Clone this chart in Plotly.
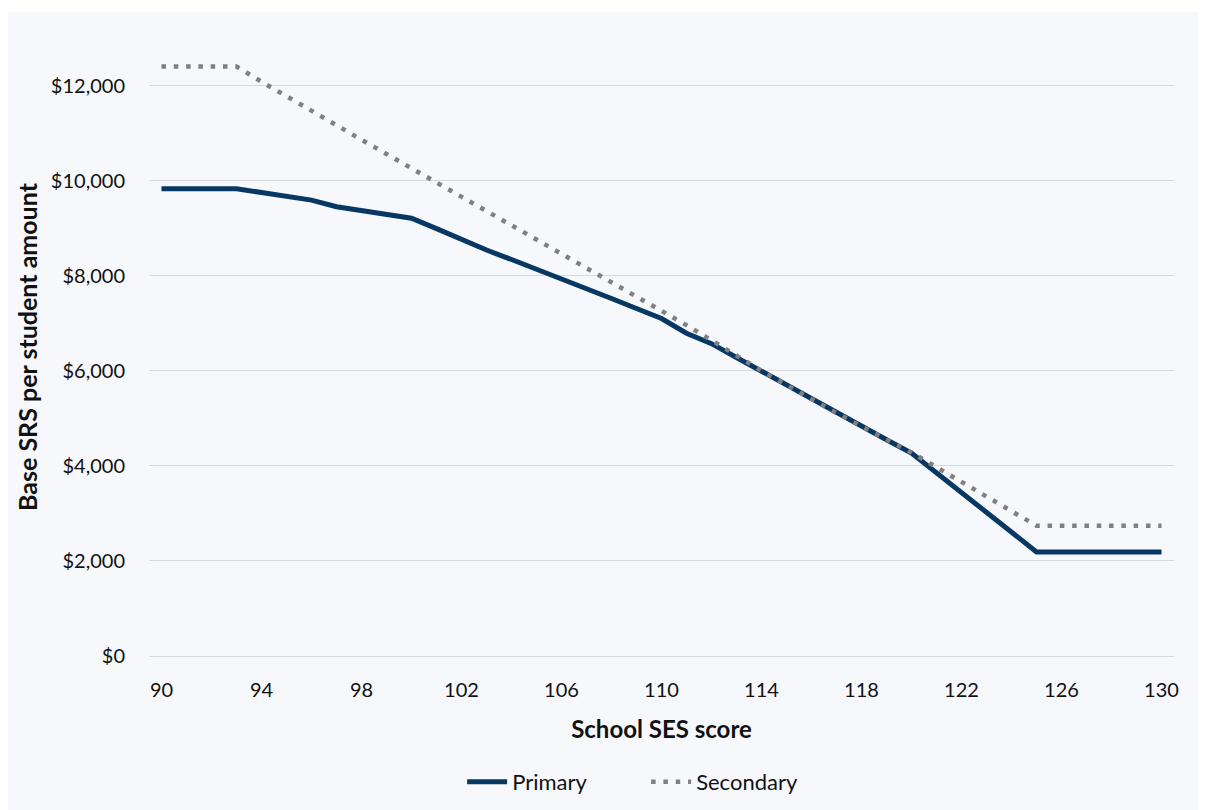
import plotly.graph_objects as go

ses_score = list(range(90, 131))

primary = [9830, 9830, 9830, 9830, 9750, 9670, 9590, 9450, 9370, 9290,
           9210, 8990, 8760, 8540, 8340, 8140, 7940, 7730, 7520, 7310,
           7100, 6790, 6570, 6280, 5990, 5690, 5400, 5100, 4820, 4550,
           4270, 3860, 3440, 3030, 2610, 2190, 2190, 2190, 2190, 2190, 2190]

secondary = [12400, 12400, 12400, 12400, 12080, 11770, 11460, 11160, 10860, 10560,
             10260, 9960, 9660, 9360, 9060, 8760, 8460, 8160, 7860, 7560,
             7270, 6960, 6640, 6310, 6000, 5700, 5400, 5110, 4830, 4550,
             4280, 3970, 3660, 3350, 3040, 2740, 2740, 2740, 2740, 2740, 2740]

x_ticks = list(range(90, 131, 4))
y_ticks = [0, 2000, 4000, 6000, 8000, 10000, 12000]
y_tick_text = ["$0", "$2,000", "$4,000", "$6,000", "$8,000", "$10,000", "$12,000"]

FONT = "Lato"
PANEL = "#f6f8fc"
GRID = "#d9d9d9"
TEXT = "#111111"

fig = go.Figure()
fig.add_trace(go.Scatter(
    x=ses_score, y=primary, name="Primary", mode="lines",
    line=dict(color="#073763", width=5),
))
fig.add_trace(go.Scatter(
    x=ses_score, y=secondary, name="Secondary", mode="lines",
    line=dict(color="#808080", width=4.5, dash="4.5px,7.8px"),
))

# thin white strip above the chart panel
fig.add_shape(type="rect", xref="paper", yref="paper",
              x0=-0.2, x1=1.2, y0=1.042, y1=1.2,
              fillcolor="white", line=dict(width=0), layer="below")

fig.update_layout(
    width=1206, height=810,
    margin=dict(l=141, r=40, t=30, b=162),
    paper_bgcolor=PANEL,
    plot_bgcolor=PANEL,
    font=dict(family=FONT, size=20, color=TEXT),
    showlegend=True,
    legend=dict(orientation="h", x=0.485, xanchor="center", y=-0.204, yanchor="middle",
                font=dict(family=FONT, size=22, color=TEXT),
                bgcolor="rgba(0,0,0,0)", itemwidth=40,
                entrywidth=129, entrywidthmode="pixels"),
    xaxis=dict(
        range=[89.5, 130.5], tickvals=x_ticks, showgrid=False, zeroline=False,
        showline=True, linecolor=GRID, linewidth=1.3, ticks="",
        ticklabelstandoff=16,
        tickfont=dict(family=FONT, size=20, color=TEXT),
        title=dict(text="<b>School SES score</b>", standoff=21,
                   font=dict(family=FONT, size=24, color=TEXT)),
    ),
    yaxis=dict(
        range=[0, 13000], tickvals=y_ticks, ticktext=y_tick_text,
        showgrid=True, gridcolor=GRID, gridwidth=1.3, zeroline=False,
        showline=False, ticks="", ticklabelstandoff=23,
        tickfont=dict(family=FONT, size=20, color=TEXT),
        title=dict(text="<b>Base SRS per student amount</b>", standoff=6,
                   font=dict(family=FONT, size=25, color=TEXT)),
    ),
)

fig.write_html("out.html")
